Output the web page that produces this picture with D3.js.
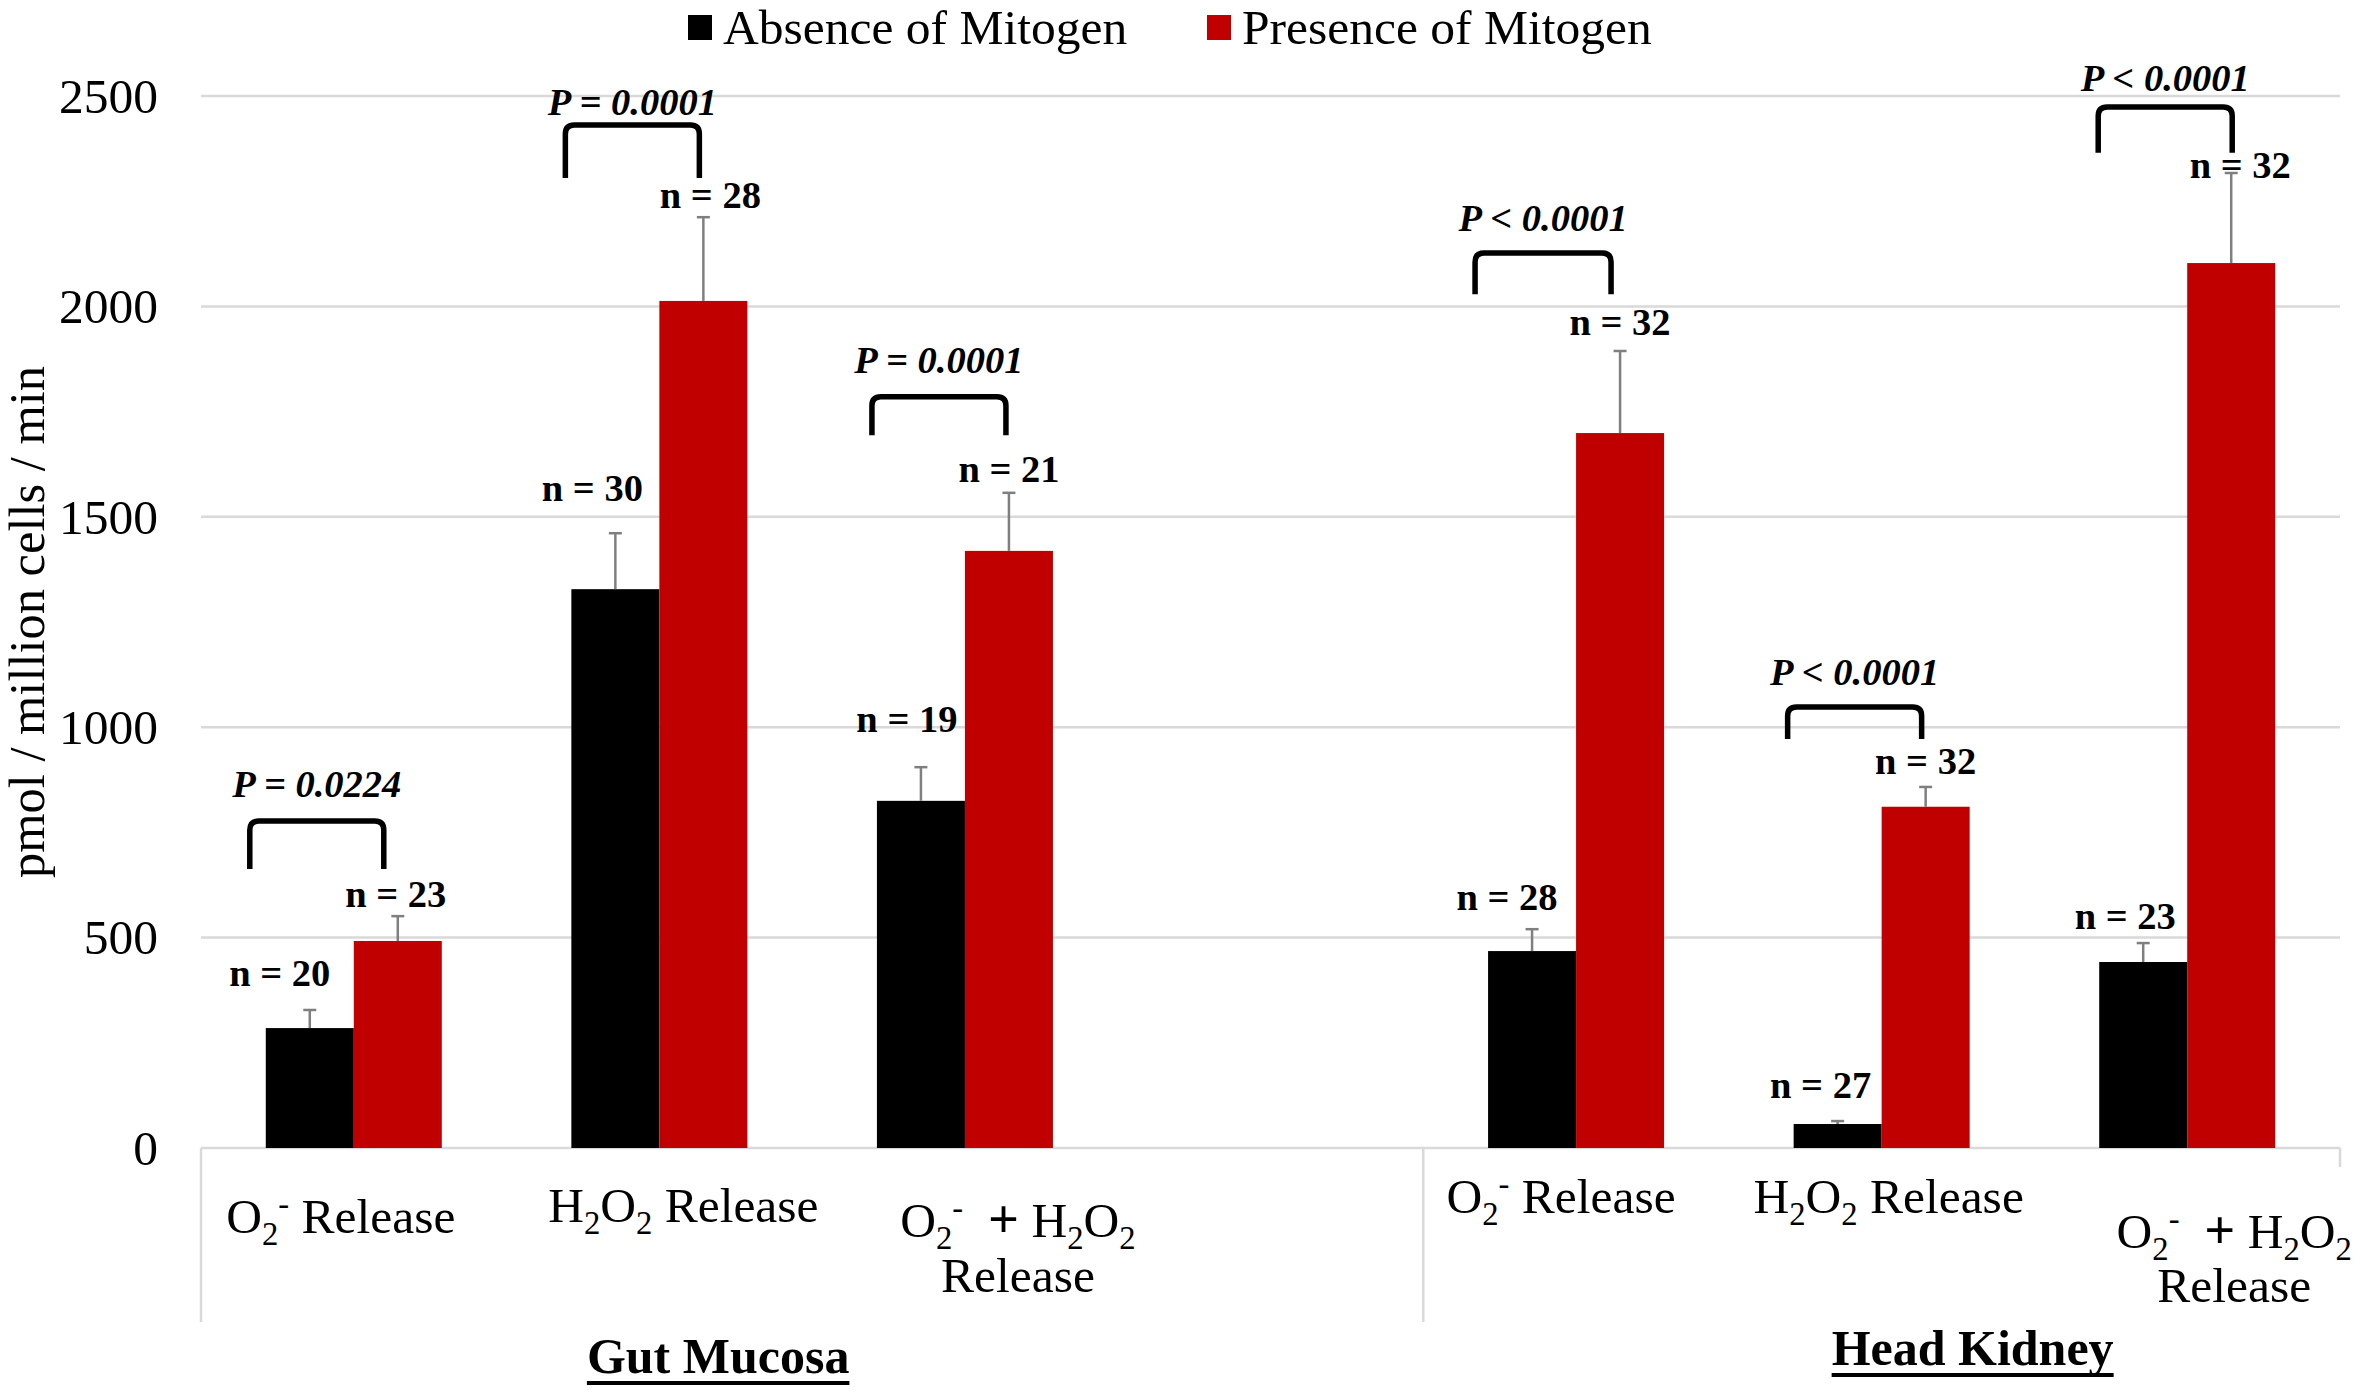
<!DOCTYPE html>
<html>
<head>
<meta charset="utf-8">
<script src="https://cdn.jsdelivr.net/npm/d3@7"></script>
<style>
  html, body { margin: 0; padding: 0; background: #ffffff; }
  svg { display: block; font-family: "Liberation Serif", "Times New Roman", serif; }
</style>
</head>
<body>
<svg id="chart" width="2360" height="1392"></svg>
<script>
// ---------------- DATA ----------------
const categoryIds = ["gO2", "gH2O2", "gBoth", "gap", "hO2", "hH2O2", "hBoth"];
const categoryLabels = [
  [[{t:"O"},{t:"2",sub:true},{t:"-",sup:true},{t:" Release"}]],
  [[{t:"H"},{t:"2",sub:true},{t:"O"},{t:"2",sub:true},{t:" Release"}]],
  [[{t:"O"},{t:"2",sub:true},{t:"-",sup:true},{t:"  "},{t:"+",bold:true},{t:" H"},{t:"2",sub:true},{t:"O"},{t:"2",sub:true}], [{t:"Release"}]],
  null,
  [[{t:"O"},{t:"2",sub:true},{t:"-",sup:true},{t:" Release"}]],
  [[{t:"H"},{t:"2",sub:true},{t:"O"},{t:"2",sub:true},{t:" Release"}]],
  [[{t:"O"},{t:"2",sub:true},{t:"-",sup:true},{t:"  "},{t:"+",bold:true},{t:" H"},{t:"2",sub:true},{t:"O"},{t:"2",sub:true}], [{t:"Release"}]]
];
const groupNames = ["Gut Mucosa", "Head Kidney"];
const seriesNames = ["Absence of Mitogen", "Presence of Mitogen"];

const absenceValues  = [285, 1328, 825, null, 468, 57, 442];
const presenceValues = [492, 2013, 1419, null, 1699, 811, 2103];
const absenceErr     = [43, 133, 80, null, 52, 7, 45];
const presenceErr    = [59, 199, 138, null, 195, 47, 214];
const absenceN       = [20, 30, 19, null, 28, 27, 23];
const presenceN      = [23, 28, 21, null, 32, 32, 32];
const pLabels        = ["= 0.0224", "= 0.0001", "= 0.0001", null, "< 0.0001", "< 0.0001", "< 0.0001"];
const yTicks         = [0, 500, 1000, 1500, 2000, 2500];
const yTitle         = "pmol / million cells / min";

// ------------- ANNOTATION LAYOUT (value units / offsets) -------------
const absenceNAt   = [385, 1538, 989, null, 566, 119, 520];
const presenceNAt  = [573, 2234, 1583, null, 1932, 889, 2305];
const absenceNDx   = [-30, -23, -14, null, -25, -17, -18];
const presenceNDx  = [-2, 7, 0, null, 0, 0, 9];
const bracketTop   = [777, 2431, 1785, null, 2127, 1048, 2474];
const bracketBot   = [663, 2305, 1694, null, 2029, 972, 2365];
const pTextAt      = [834, 2455, 1842, null, 2179, 1100, 2512];
const bracketL     = [-104, -94, -93, null, -101, -94, -89];
const bracketR     = [30, 40, 41, null, 35, 40, 45];
const catLabelDx   = [-13, 24, 53, null, -15, 7, 47];
const catLabelDy   = [[85], [74], [89, 144], null, [65], [65], [100, 154]];

// ---------------- LAYOUT ----------------
const W = 2360, H = 1392;
const plot = { left: 201, right: 2340, top: 96, bottom: 1148 };
const colors = ["#000000", "#C00000"];
const FS = 49.5;

const svg = d3.select("#chart");

const x = d3.scaleBand().domain(categoryIds).range([plot.left, plot.right]).paddingInner(0).paddingOuter(0);
const groupW = x.bandwidth() * 0.576;
const x1 = d3.scaleBand().domain([0, 1]).range([-groupW / 2, groupW / 2]).padding(0);
const y = d3.scaleLinear().domain([0, 2500]).range([plot.bottom, plot.top]);

// gridlines
svg.append("g").selectAll("line").data(yTicks).join("line")
  .attr("x1", plot.left).attr("x2", plot.right)
  .attr("y1", d => y(d)).attr("y2", d => y(d))
  .attr("stroke", "#d9d9d9").attr("stroke-width", 2.5);

// y axis tick labels via d3 axis
const yAxis = d3.axisLeft(y).tickValues(yTicks).tickSize(0).tickPadding(0).tickFormat(d3.format("d"));
const yg = svg.append("g").attr("transform", `translate(${158},0)`).call(yAxis);
yg.select(".domain").remove();
yg.selectAll("text").attr("font-size", FS).attr("fill", "#000")
  .attr("font-family", "Liberation Serif").attr("dy", "0.33em");

// y title
svg.append("text")
  .attr("transform", `translate(44,${(plot.top + plot.bottom) / 2}) rotate(-90)`)
  .attr("text-anchor", "middle").attr("font-size", 50.5).attr("fill", "#000")
  .text(yTitle);

// category separators
const sepBottom = 1322;
[0, 4].forEach(i => {
  svg.append("line")
    .attr("x1", x(categoryIds[i])).attr("x2", x(categoryIds[i]))
    .attr("y1", plot.bottom).attr("y2", sepBottom)
    .attr("stroke", "#d9d9d9").attr("stroke-width", 2.5);
});
svg.append("line").attr("x1", plot.right).attr("x2", plot.right)
  .attr("y1", plot.bottom).attr("y2", plot.bottom + 19)
  .attr("stroke", "#d9d9d9").attr("stroke-width", 2.5);

// bars
const rows = categoryIds.map((id, i) => ({
  id, i,
  vals: [absenceValues[i], presenceValues[i]],
  errs: [absenceErr[i], presenceErr[i]]
})).filter(r => r.vals[0] !== null);

const barG = svg.append("g");
rows.forEach(r => {
  const cx = x(r.id) + x.bandwidth() / 2;
  r.vals.forEach((v, s) => {
    barG.append("rect")
      .attr("x", cx + x1(s)).attr("width", x1.bandwidth())
      .attr("y", y(v)).attr("height", y(0) - y(v))
      .attr("fill", colors[s]);
  });
});
// error bars
rows.forEach(r => {
  const cx = x(r.id) + x.bandwidth() / 2;
  r.vals.forEach((v, s) => {
    const bx = cx + x1(s) + x1.bandwidth() / 2;
    const top = y(v + r.errs[s]);
    barG.append("line").attr("x1", bx).attr("x2", bx).attr("y1", y(v)).attr("y2", top)
      .attr("stroke", "#7f7f7f").attr("stroke-width", 2.5);
    barG.append("line").attr("x1", bx - 6.5).attr("x2", bx + 6.5).attr("y1", top).attr("y2", top)
      .attr("stroke", "#7f7f7f").attr("stroke-width", 2.5);
  });
});

// n labels, brackets, p labels
const annG = svg.append("g");
rows.forEach(r => {
  const i = r.i;
  const cx = x(r.id) + x.bandwidth() / 2;
  const ns = [absenceN[i], presenceN[i]];
  const at = [absenceNAt[i], presenceNAt[i]];
  const dx = [absenceNDx[i], presenceNDx[i]];
  ns.forEach((n, s) => {
    annG.append("text")
      .attr("x", cx + x1(s) + x1.bandwidth() / 2 + dx[s])
      .attr("y", y(at[s]))
      .attr("text-anchor", "middle").attr("font-weight", "bold")
      .attr("font-size", 38.5).attr("fill", "#000")
      .text(`n = ${n}`);
  });
  const l = cx + bracketL[i], rr = cx + bracketR[i];
  const t = y(bracketTop[i]), b = y(bracketBot[i]);
  const rad = 9;
  annG.append("path")
    .attr("d", `M${l},${b} L${l},${t + rad} Q${l},${t} ${l + rad},${t} L${rr - rad},${t} Q${rr},${t} ${rr},${t + rad} L${rr},${b}`)
    .attr("fill", "none").attr("stroke", "#000").attr("stroke-width", 5.5);
  const pt = annG.append("text")
    .attr("x", (l + rr) / 2).attr("y", y(pTextAt[i]))
    .attr("text-anchor", "middle").attr("font-weight", "bold").attr("font-style", "italic")
    .attr("font-size", 38.5).attr("fill", "#000");
  pt.append("tspan").text("P ");
  pt.append("tspan").text(pLabels[i]);
});

// category labels with sub/superscripts (one text element per label, lines as tspans)
function chemLine(textSel, parts, size, lx, ly) {
  let shift = 0;
  parts.forEach((p, k) => {
    const ts = textSel.append("tspan");
    let target = 0;
    if (p.sub) target = size * 0.24;
    if (p.sup) target = -size * 0.36;
    if (k === 0) {
      ts.attr("x", lx).attr("y", ly + target);
    } else {
      ts.attr("dy", target - shift);
    }
    shift = target;
    ts.attr("font-size", (p.sub || p.sup) ? size * 0.66 : size);
    if (p.bold) ts.attr("font-weight", "bold").attr("font-size", size * 1.1);
    ts.text(p.t);
  });
}
categoryIds.forEach((id, i) => {
  const lines = categoryLabels[i];
  if (!lines) return;
  const cx = x(id) + x.bandwidth() / 2 + catLabelDx[i];
  const t = svg.append("text")
    .attr("text-anchor", "middle").attr("font-size", FS).attr("fill", "#000")
    .attr("xml:space", "preserve").style("white-space", "pre");
  lines.forEach((parts, li) => {
    chemLine(t, parts, FS, cx, plot.bottom + catLabelDy[i][li]);
  });
});

// group labels (underlined, bold)
const groupCenters = [[0, 3, -94], [4, 6, 91]];
const groupBaselines = [225, 217];
groupNames.forEach((g, gi) => {
  const [a, b, off] = groupCenters[gi];
  const cx = (x(categoryIds[a]) + x(categoryIds[b]) + x.bandwidth()) / 2 + off;
  const t = svg.append("text")
    .attr("x", cx).attr("y", plot.bottom + groupBaselines[gi])
    .attr("text-anchor", "middle").attr("font-weight", "bold")
    .attr("font-size", 50).attr("fill", "#000").text(g);
  const bb = t.node().getBBox();
  svg.append("line")
    .attr("x1", bb.x).attr("x2", bb.x + bb.width)
    .attr("y1", plot.bottom + groupBaselines[gi] + 10).attr("y2", plot.bottom + groupBaselines[gi] + 10)
    .attr("stroke", "#000").attr("stroke-width", 4);
});

// legend
const legendX = [688, 1207];
const leg = svg.append("g");
seriesNames.forEach((s, i) => {
  leg.append("rect").attr("x", legendX[i]).attr("y", 15).attr("width", 24).attr("height", 25).attr("fill", colors[i]);
  leg.append("text").attr("x", legendX[i] + 35).attr("y", 44)
    .attr("font-size", FS).attr("fill", "#000").text(s);
});
</script>
</body>
</html>
